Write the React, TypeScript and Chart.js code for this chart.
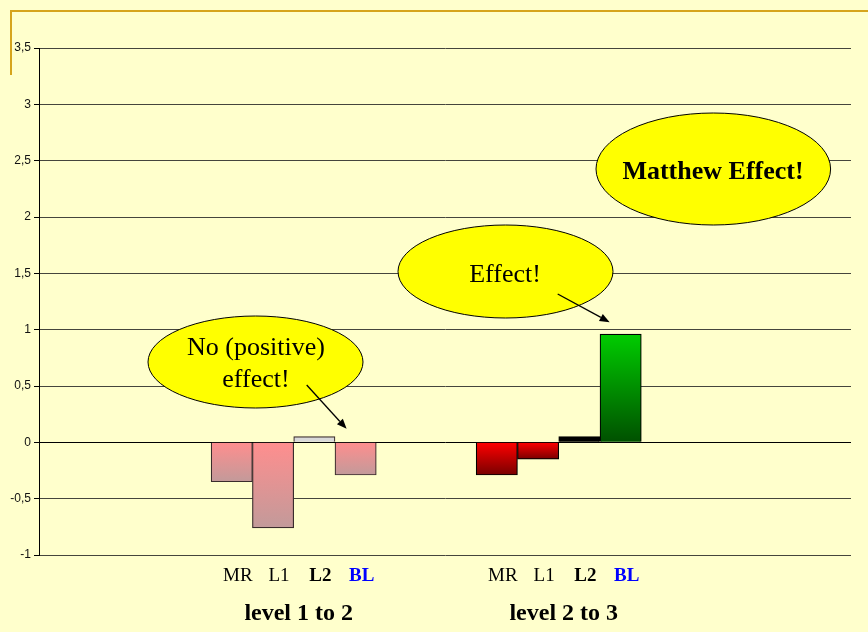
import { useEffect, useRef } from "react";
import { Chart, registerables } from "chart.js";

Chart.register(...registerables);

// ---- data ----
const seriesNames = ["MR", "L1", "L2", "BL"];
const groupNames = ["level 1 to 2", "level 2 to 3"];
const level1to2 = [-0.35, -0.76, 0.05, -0.29];
const level2to3 = [-0.29, -0.15, 0.05, 0.96];
const yTickStep = 0.5;
const yMin = -1;
const yMax = 3.5;

// ---- styles ----
const BG = "#FFFFCC";
const GOLD = "#D6A41C";
const pink = ["#FF8E8E", "#C29A9A"];
const red = ["#FF0000", "#780000"];
const green = ["#00CC00", "#005000"];
const group1Fills: (string | string[])[] = [pink, pink, "#D9D9D9", pink];
const group2Fills: (string | string[])[] = [red, red, "#000000", green];
const group1Border = "#3A2C2C";
const group2Border = "#000000";
const seriesLabelStyle = [
  { bold: false, color: "#000000" },
  { bold: false, color: "#000000" },
  { bold: true, color: "#000000" },
  { bold: true, color: "#0000FF" },
];
const SERIF = '"Liberation Serif", "Times New Roman", serif';
const SANS = '"Liberation Sans", Arial, sans-serif';

// layout of the bar clusters on a linear index axis (units = one bar width)
const GROUP_STEP = 6.42;
const X_MIN = -4.67;
const X_MAX = 15;

const groups = [level1to2, level2to3];
const points = groups.flatMap((vals, g) =>
  vals.map((v, s) => ({ x: g * GROUP_STEP + s, y: v }))
);
const fills = [...group1Fills, ...group2Fills];
const borders = [
  ...level1to2.map(() => group1Border),
  ...level2to3.map(() => group2Border),
];

type Callout = {
  lines: string[];
  cx: number;
  cy: number;
  rx: number;
  ry: number;
  bold: boolean;
  size: number;
  baselines: number[];
  textX: number;
  arrowFrom?: [number, number];
  target?: number; // bar index
  tipOffset?: [number, number];
};

const callouts: Callout[] = [
  {
    lines: ["No (positive)", "effect!"],
    cx: 255.5, cy: 362, rx: 107.5, ry: 46,
    bold: false, size: 26, baselines: [355, 387], textX: 256,
    arrowFrom: [306.7, 385], target: 3, tipOffset: [-9, -14],
  },
  {
    lines: ["Effect!"],
    cx: 505.5, cy: 271.5, rx: 107.5, ry: 46.5,
    bold: false, size: 26, baselines: [282], textX: 505,
    arrowFrom: [557.7, 294], target: 7, tipOffset: [-11, -12],
  },
  {
    lines: ["Matthew Effect!"],
    cx: 713.3, cy: 169, rx: 117.3, ry: 56,
    bold: true, size: 26, baselines: [179], textX: 713,
  },
];

function drawArrow(ctx: CanvasRenderingContext2D, x1: number, y1: number, x2: number, y2: number) {
  const ang = Math.atan2(y2 - y1, x2 - x1);
  const len = 10;
  const hw = 4;
  const bx = x2 - len * Math.cos(ang);
  const by = y2 - len * Math.sin(ang);
  ctx.save();
  ctx.strokeStyle = "#000";
  ctx.fillStyle = "#000";
  ctx.lineWidth = 1.3;
  ctx.beginPath();
  ctx.moveTo(x1, y1);
  ctx.lineTo(bx, by);
  ctx.stroke();
  ctx.beginPath();
  ctx.moveTo(x2, y2);
  ctx.lineTo(bx + hw * Math.sin(ang), by - hw * Math.cos(ang));
  ctx.lineTo(bx - hw * Math.sin(ang), by + hw * Math.cos(ang));
  ctx.closePath();
  ctx.fill();
  ctx.restore();
}

const decorPlugin = {
  id: "decor",
  beforeDraw(chart: any) {
    const ctx: CanvasRenderingContext2D = chart.ctx;
    ctx.save();
    ctx.fillStyle = BG;
    ctx.fillRect(0, 0, chart.width, chart.height);
    ctx.strokeStyle = GOLD;
    ctx.lineWidth = 2;
    ctx.beginPath();
    ctx.moveTo(11, 75);
    ctx.lineTo(11, 11);
    ctx.lineTo(chart.width, 11);
    ctx.stroke();
    ctx.restore();
  },
  afterDatasetsDraw(chart: any) {
    const ctx: CanvasRenderingContext2D = chart.ctx;
    const meta = chart.getDatasetMeta(0);
    const bars = meta.data;
    ctx.save();
    // series labels under each bar
    ctx.textAlign = "center";
    ctx.textBaseline = "alphabetic";
    groups.forEach((vals, g) => {
      vals.forEach((_, s) => {
        const bar = bars[g * seriesNames.length + s];
        const st = seriesLabelStyle[s];
        ctx.font = `${st.bold ? "bold " : ""}19px ${SERIF}`;
        ctx.fillStyle = st.color;
        ctx.fillText(seriesNames[s], bar.x + 6, 581);
      });
      const first = bars[g * seriesNames.length];
      const last = bars[g * seriesNames.length + seriesNames.length - 1];
      ctx.font = `bold 24px ${SERIF}`;
      ctx.fillStyle = "#000";
      ctx.fillText(groupNames[g], (first.x + last.x) / 2 + 5, 620);
    });
    // callouts
    callouts.forEach((c) => {
      ctx.beginPath();
      ctx.ellipse(c.cx, c.cy, c.rx, c.ry, 0, 0, Math.PI * 2);
      ctx.fillStyle = "#FFFF00";
      ctx.fill();
      ctx.lineWidth = 1;
      ctx.strokeStyle = "#000";
      ctx.stroke();
      ctx.fillStyle = "#000";
      ctx.font = `${c.bold ? "bold " : ""}${c.size}px ${SERIF}`;
      c.lines.forEach((ln, i) => ctx.fillText(ln, c.textX, c.baselines[i]));
      if (c.arrowFrom && c.target !== undefined && c.tipOffset) {
        const bar = bars[c.target];
        const topY = Math.min(bar.y, bar.base);
        drawArrow(ctx, c.arrowFrom[0], c.arrowFrom[1], bar.x + c.tipOffset[0], topY + c.tipOffset[1]);
      }
    });
    ctx.restore();
  },
};

export default function App() {
  const ref = useRef<HTMLCanvasElement>(null);
  useEffect(() => {
    document.body.style.margin = "0";
    const canvas = ref.current!;
    const chart = new Chart(canvas, {
      type: "bar",
      data: {
        datasets: [
          {
            data: points,
            backgroundColor: (c: any) => {
              const fill = fills[c.dataIndex];
              if (typeof fill === "string") return fill;
              const ch = c.chart;
              const ys = ch.scales && ch.scales.y;
              if (!ch.chartArea || !ys || !c.parsed) return fill[0];
              const v = c.parsed.y;
              const top = ys.getPixelForValue(Math.max(v, 0));
              const bot = ys.getPixelForValue(Math.min(v, 0));
              if (!isFinite(top) || !isFinite(bot) || bot - top < 1) return fill[0];
              const g = ch.ctx.createLinearGradient(0, top, 0, bot);
              g.addColorStop(0, fill[0]);
              g.addColorStop(1, fill[1]);
              return g;
            },
            borderColor: borders,
            borderWidth: 1.2,
            barPercentage: 1,
            categoryPercentage: 1,
          },
        ],
      },
      options: {
        responsive: false,
        animation: false,
        devicePixelRatio: 1,
        layout: { padding: { top: 48, right: 17, bottom: 77, left: 0 } },
        plugins: { legend: { display: false }, tooltip: { enabled: false } },
        scales: {
          x: {
            type: "linear",
            display: false,
            offset: false,
            grid: { offset: false },
            min: X_MIN,
            max: X_MAX,
            ticks: { stepSize: 5 },
          },
          y: {
            min: yMin,
            max: yMax,
            afterFit: (s: any) => {
              s.width = 39;
            },
            ticks: {
              stepSize: yTickStep,
              padding: 3,
              color: "#111111",
              font: { family: SANS, size: 12 },
              callback: (v: any) => String(v).replace(".", ","),
            },
            grid: {
              color: (c: any) => (c.tick && c.tick.value === 0 ? "#000000" : "#45453c"),
              tickColor: "#000000",
              tickLength: 5,
            },
            border: { display: true, color: "#000000", width: 1 },
          },
        },
      },
      plugins: [decorPlugin],
    } as any);
    return () => chart.destroy();
  }, []);
  return (
    <div style={{ position: "absolute", left: 0, top: 0, width: 868, height: 632, background: BG }}>
      <canvas ref={ref} width={868} height={632} style={{ display: "block" }} />
    </div>
  );
}
